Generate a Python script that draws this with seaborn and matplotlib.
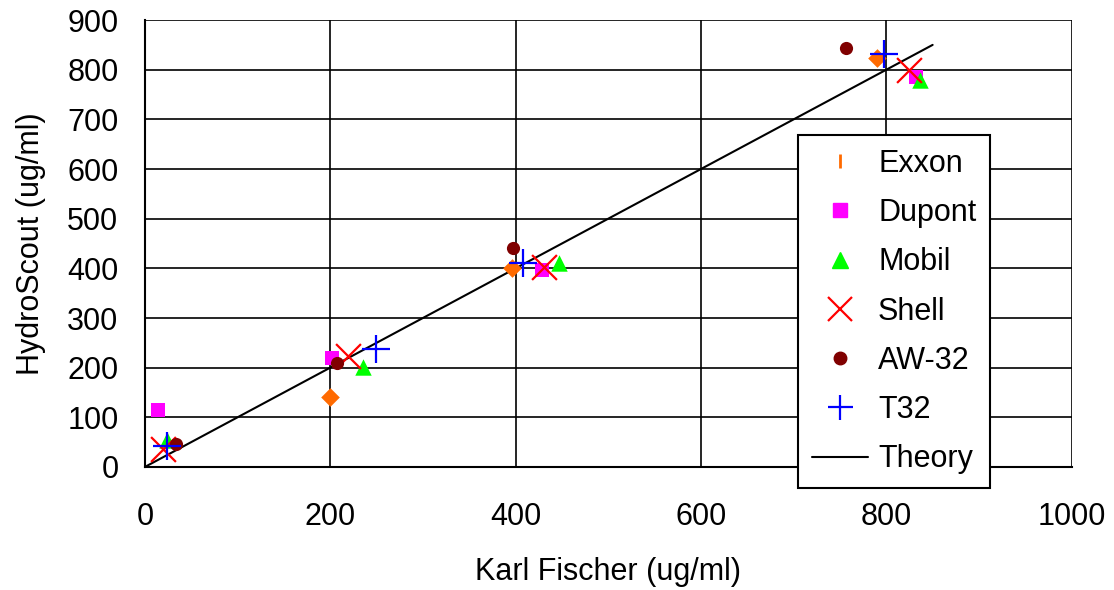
import matplotlib
matplotlib.use("Agg")
import matplotlib.pyplot as plt
import seaborn as sns
from matplotlib.lines import Line2D

# values
exxon_kf = [200, 396, 790]
exxon_hs = [141, 401, 823]
dupont_kf = [14, 202, 428, 832]
dupont_hs = [115, 220, 397, 785]
mobil_kf = [24, 235, 447, 836]
mobil_hs = [54, 202, 410, 779]
shell_kf = [20, 219, 431, 825]
shell_hs = [36, 223, 403, 799]
aw32_kf = [34, 207, 397, 757]
aw32_hs = [46, 210, 440, 844]
t32_kf = [24, 249, 408, 797]
t32_hs = [42, 237, 411, 831]
theory_x = [0, 850]
theory_y = [0, 850]

sns.set_style("white")
plt.rcParams['font.family'] = ['Liberation Sans', 'DejaVu Sans']
plt.rcParams['text.color'] = 'black'
plt.rcParams['axes.labelcolor'] = 'black'

fig, ax = plt.subplots(figsize=(11.14, 5.9), dpi=100)
fig.subplots_adjust(left=0.130, right=0.962, top=0.966, bottom=0.2085)

sns.lineplot(x=theory_x, y=theory_y, color='black', linewidth=1.5, ax=ax, zorder=3)

series = [
    ('Exxon', exxon_kf, exxon_hs, 'D', '#ff6a00', 90),
    ('Dupont', dupont_kf, dupont_hs, 's', '#ff00ff', 110),
    ('Mobil', mobil_kf, mobil_hs, '^', '#00ff00', 140),
    ('Shell', shell_kf, shell_hs, 'x', '#ff0000', 320),
    ('AW-32', aw32_kf, aw32_hs, 'o', '#800000', 90),
    ('T32', t32_kf, t32_hs, '+', '#0000ff', 380),
]
for name, xs, ys, mk, col, sz in series:
    if mk in ('x', '+'):
        sns.scatterplot(x=xs, y=ys, marker=mk, color=col, s=sz, linewidth=1.6, ax=ax, zorder=4)
    else:
        sns.scatterplot(x=xs, y=ys, marker=mk, color=col, s=sz, edgecolor=col, linewidth=0, ax=ax, zorder=4)

ax.set_xlim(0, 1000)
ax.set_ylim(0, 900)
ax.set_xticks(range(0, 1001, 200))
ax.set_yticks(range(0, 901, 100))
ax.grid(True, color='black', linewidth=1.2)
ax.set_axisbelow(True)
for sp in ax.spines.values():
    sp.set_color('black')
    sp.set_linewidth(1.5)
ax.spines['top'].set_visible(False)
ax.spines['right'].set_visible(False)
ax.tick_params(axis='both', direction='out', length=7, width=1.5, labelsize=22,
               colors='black', labelcolor='black')
ax.tick_params(axis='x', pad=18)
ax.tick_params(axis='y', pad=12)
ax.set_xlabel('Karl Fischer (ug/ml)', fontsize=22, labelpad=18)
ax.set_ylabel('HydroScout (ug/ml)', fontsize=22, labelpad=15)

handles = [
    Line2D([], [], marker='|', color='#ff6a00', linestyle='none', markersize=10, markeredgewidth=2),
    Line2D([], [], marker='s', color='#ff00ff', linestyle='none', markersize=10),
    Line2D([], [], marker='^', color='#00ff00', linestyle='none', markersize=11),
    Line2D([], [], marker='x', color='#ff0000', linestyle='none', markersize=17, markeredgewidth=1.6),
    Line2D([], [], marker='o', color='#800000', linestyle='none', markersize=9),
    Line2D([], [], marker='+', color='#0000ff', linestyle='none', markersize=18, markeredgewidth=1.6),
    Line2D([], [], color='black', linewidth=1.5),
]
labels = ['Exxon', 'Dupont', 'Mobil', 'Shell', 'AW-32', 'T32', 'Theory']
leg = fig.legend(handles, labels, loc='upper left', bbox_to_anchor=(798 / 1114, 1 - 135 / 590),
                 borderaxespad=0, fontsize=22, frameon=True, fancybox=False, edgecolor='black',
                 framealpha=1, handlelength=1.84, labelspacing=0.63, borderpad=0.45,
                 handletextpad=0.33)
leg.get_frame().set_linewidth(1.5)

fig.savefig('out.png', dpi=100)
